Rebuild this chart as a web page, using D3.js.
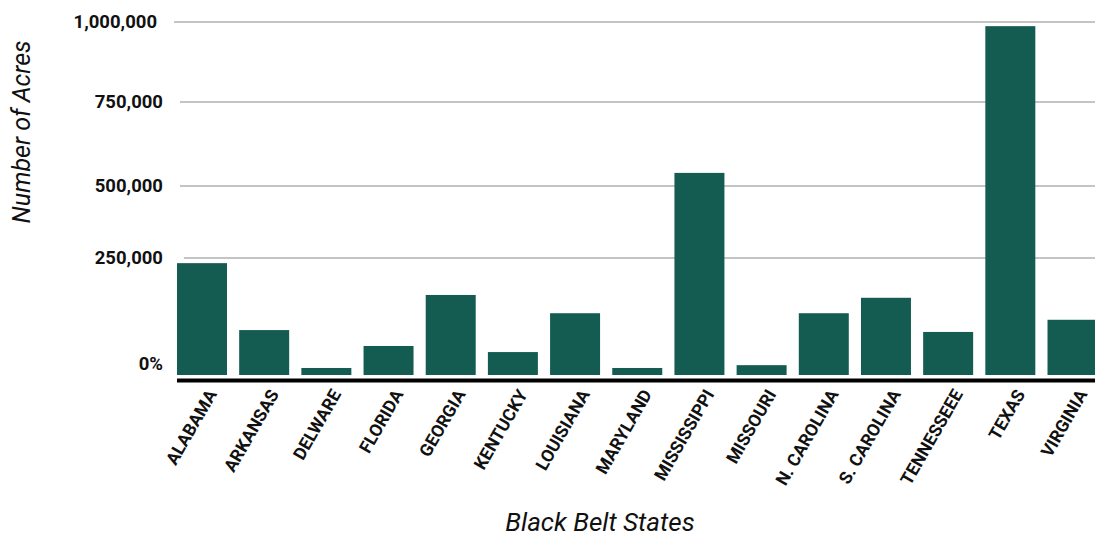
<!DOCTYPE html>
<html>
<head>
<meta charset="utf-8">
<script src="https://cdn.jsdelivr.net/npm/d3@7"></script>
<style>
  body { margin: 0; background: #fff; }
  svg { display: block; font-family: Roboto, "Noto Sans", sans-serif; }
</style>
</head>
<body>
<svg id="chart" width="1095" height="536"></svg>
<script>
// Black Belt states and acreage
const states = ["ALABAMA", "ARKANSAS", "DELWARE", "FLORIDA", "GEORGIA", "KENTUCKY",
  "LOUISIANA", "MARYLAND", "MISSISSIPPI", "MISSOURI", "N. CAROLINA", "S. CAROLINA",
  "TENNESSEEE", "TEXAS", "VIRGINIA"];
const acres = [239000, 96000, 15000, 62000, 171000, 49000, 132000, 15000,
  539000, 21000, 132000, 165000, 92000, 987000, 118000];
const tickValues = [0, 250000, 500000, 750000, 1000000];
const tickLabels = ["0%", "250,000", "500,000", "750,000", "1,000,000"];

const svg = d3.select("#chart");
const barColor = "#145c51";

const x = d3.scaleBand()
  .domain(states)
  .range([177, 1097.5])
  .paddingInner(0.196)
  .paddingOuter(0);

// value axis with uneven spacing between its ticks
const y = d3.scaleLinear()
  .domain(tickValues)
  .range([375, 258, 186, 102, 22]);

// gridlines
const gridStart = [null, 184, 180, 180, 174];
svg.append("g").selectAll("line")
  .data(tickValues.slice(1))
  .join("line")
  .attr("x1", (d, i) => gridStart[i + 1])
  .attr("x2", 1095)
  .attr("y1", d => y(d))
  .attr("y2", d => y(d))
  .attr("stroke", "#c4c4c4")
  .attr("stroke-width", 2);

// y tick labels
const yAxis = d3.axisLeft(y)
  .tickValues(tickValues)
  .tickFormat((d, i) => tickLabels[i])
  .tickSize(0)
  .tickPadding(0);
const gy = svg.append("g").attr("transform", "translate(163,0)").call(yAxis);
gy.select(".domain").remove();
gy.selectAll("text")
  .attr("font-size", 18.5)
  .attr("font-weight", "bold")
  .attr("fill", "#111")
  .attr("font-family", "Roboto, sans-serif")
  .attr("dy", d => d === 0 ? "-0.32em" : "0.32em");
gy.selectAll(".tick").filter(d => d === 1000000).select("text").attr("dx", -6);

// bars
svg.append("g").selectAll("rect")
  .data(states)
  .join("rect")
  .attr("x", d => x(d))
  .attr("width", x.bandwidth())
  .attr("y", (d, i) => y(acres[i]))
  .attr("height", (d, i) => y(0) - y(acres[i]))
  .attr("fill", barColor);

// baseline
svg.append("line")
  .attr("x1", 177).attr("x2", 1095)
  .attr("y1", 380.5).attr("y2", 380.5)
  .attr("stroke", "#000")
  .attr("stroke-width", 4);

// category labels
const xAxis = d3.axisBottom(x).tickSize(0).tickPadding(0);
const gx = svg.append("g").attr("transform", "translate(0,391)").call(xAxis);
gx.select(".domain").remove();
gx.selectAll("text")
  .attr("font-size", 17.5)
  .attr("font-weight", "bold")
  .attr("fill", "#111")
  .attr("font-family", "Roboto, sans-serif")
  .attr("text-anchor", "end")
  .attr("dy", "0.35em")
  .attr("transform", "translate(10,0) rotate(-60)");

// axis titles
svg.append("text")
  .attr("x", 600).attr("y", 531)
  .attr("text-anchor", "middle")
  .attr("font-size", 26)
  .attr("font-style", "italic")
  .attr("fill", "#111")
  .text("Black Belt States");

svg.append("text")
  .attr("transform", "translate(30,132) rotate(-90)")
  .attr("text-anchor", "middle")
  .attr("font-size", 25)
  .attr("font-style", "italic")
  .attr("fill", "#111")
  .text("Number of Acres");
</script>
</body>
</html>
